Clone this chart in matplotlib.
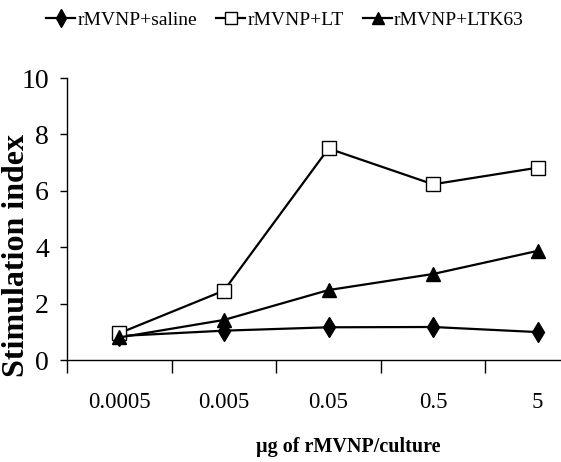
import matplotlib
matplotlib.use("Agg")
import matplotlib.pyplot as plt

plt.rcParams['font.family'] = ['Liberation Serif', 'DejaVu Serif']

doses = ["0.0005", "0.005", "0.05", "0.5", "5"]
saline = [0.85, 1.04, 1.16, 1.17, 0.99]
lt = [0.95, 2.46, 7.5, 6.23, 6.82]
ltk63 = [0.8, 1.42, 2.48, 3.05, 3.87]

fig = plt.figure(figsize=(5.61, 4.62), dpi=100)
# right edge of the axes runs past the figure, so the last category is cut
ax = fig.add_axes([67 / 561, 102 / 462, 523 / 561, 282 / 462])

x = range(len(doses))
l1, = ax.plot(x, saline, color='black', lw=1.6, marker='d', ms=10,
              mfc='black', mec='black', label='rMVNP+saline')
l2, = ax.plot(x, lt, color='black', lw=1.6, marker='s', ms=9.5,
              mfc='white', mec='black', mew=1.0, label='rMVNP+LT')
l3, = ax.plot(x, ltk63, color='black', lw=1.6, marker='^', ms=9.5,
              mfc='black', mec='black', label='rMVNP+LTK63')

ax.set_xlim(-0.5, len(doses) - 0.5)
ax.set_ylim(0, 10)
ax.set_yticks([0, 2, 4, 6, 8, 10])
ax.tick_params(axis='y', labelsize=20, length=5, width=1, pad=8)

# tick marks between categories, labels under the categories
ax.set_xticks([i - 0.5 for i in range(len(doses) + 1)])
ax.set_xticklabels([])
ax.set_xticks(list(x), minor=True)
ax.set_xticklabels(doses, minor=True, fontsize=16.5)
ax.tick_params(axis='x', which='major', length=9, width=1)
ax.tick_params(axis='x', which='minor', length=0, pad=23)

for side in ['top', 'right']:
    ax.spines[side].set_visible(False)
ax.spines['left'].set_linewidth(1)
ax.spines['bottom'].set_linewidth(1)

ax.set_ylabel('Stimulation index', fontsize=23, fontweight='bold')
ax.yaxis.set_label_coords(-0.068, 0.37)
fig.text(348 / 561, 1 - 447 / 462, 'µg of rMVNP/culture', fontsize=14.5,
         fontweight='bold', ha='center', va='center')

fig.legend(handles=[l1, l2, l3], loc='center', bbox_to_anchor=(285 / 561, 1 - 20 / 462),
           ncol=3, frameon=False, fontsize=14, handlelength=1.5,
           columnspacing=1.0, handletextpad=0.1, markerscale=0.9)

fig.savefig('out.png', dpi=100)
